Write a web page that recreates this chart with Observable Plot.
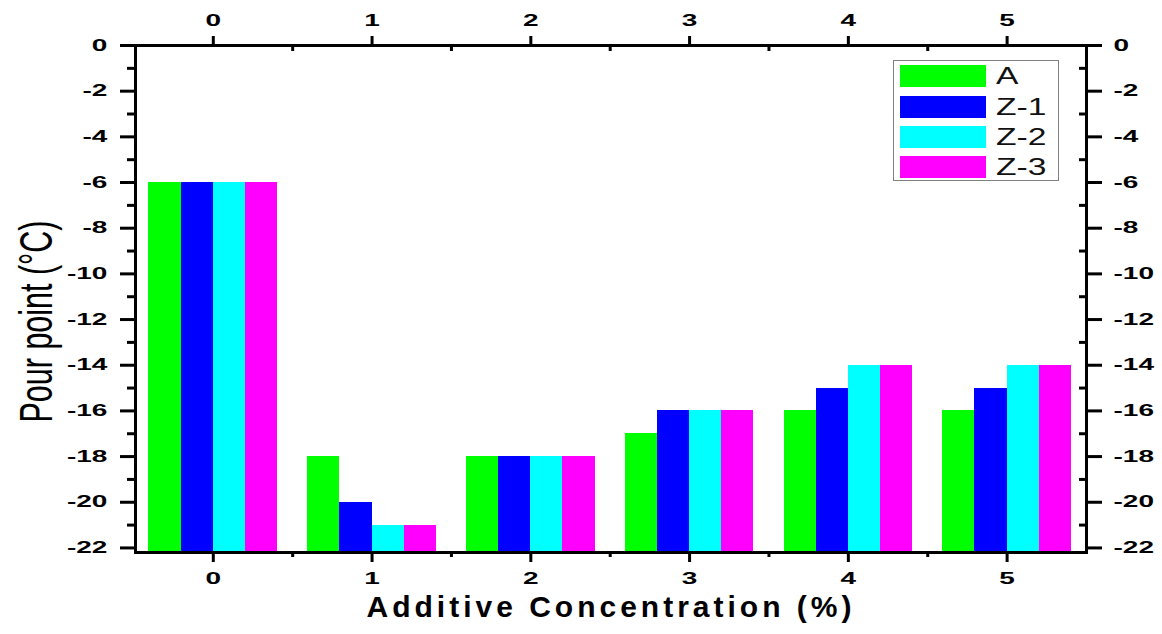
<!DOCTYPE html>
<html>
<head>
<meta charset="utf-8">
<script src="https://cdn.jsdelivr.net/npm/d3@7"></script>
<script src="https://cdn.jsdelivr.net/npm/@observablehq/plot@0.6"></script>
<style>
  html, body { margin: 0; padding: 0; background: #fff; }
  #wrap { position: relative; width: 1162px; height: 634px; font-family: "Liberation Sans", Arial, sans-serif; }
  #legend { position: absolute; left: 893px; top: 60px; width: 166px; height: 121px; border: 1px solid #808080; background: #fff; box-sizing: border-box; }
  .sw { position: absolute; left: 6px; width: 86px; height: 22px; }
  .lt { position: absolute; left: 102px; font-size: 24px; line-height: 1; color: #111; transform: scaleX(1.4); transform-origin: left center; white-space: nowrap; }
</style>
</head>
<body>
<div id="wrap"></div>
<script>
// ---- data ----
const concentrations = [0, 1, 2, 3, 4, 5];
const seriesNames = ["A", "Z-1", "Z-2", "Z-3"];
const seriesColors = ["#00ff00", "#0000ff", "#00ffff", "#ff00ff"];
const valuesA  = [-6, -18, -18, -17, -16, -16];
const valuesZ1 = [-6, -20, -18, -16, -15, -15];
const valuesZ2 = [-6, -21, -18, -16, -14, -14];
const valuesZ3 = [-6, -21, -18, -16, -14, -14];
const yMajorTicks = [0, -2, -4, -6, -8, -10, -12, -14, -16, -18, -20, -22];
const yMinorTicks = [-1, -3, -5, -7, -9, -11, -13, -15, -17, -19, -21];
const xMajorTicks = [0, 1, 2, 3, 4, 5];
const xMinorTicks = [0.5, 1.5, 2.5, 3.5, 4.5];
const xTitle = "Additive Concentration (%)";
const yTitle = "Pour point (°C)";
const yDomain = [-22.2, 0];
const xDomain = [-0.49, 5.5];

const seriesValues = [valuesA, valuesZ1, valuesZ2, valuesZ3];
const groupHalf = 0.405;
const barW = (2 * groupHalf) / seriesNames.length;
const rows = [];
concentrations.forEach((c, gi) => {
  seriesNames.forEach((s, k) => {
    rows.push({c, k, series: s, v: seriesValues[k][gi]});
  });
});

const fmt = d => String(d);
const axisFont = {fontSize: 16, fontWeight: "bold"};

const chart = Plot.plot({
  width: 1162,
  height: 634,
  marginLeft: 135,
  marginRight: 76,
  marginTop: 45,
  marginBottom: 82,
  style: {fontFamily: "'Liberation Sans', Arial, sans-serif", background: "white", color: "black"},
  x: {domain: xDomain},
  y: {domain: yDomain},
  color: {domain: seriesNames, range: seriesColors},
  marks: [
    Plot.rectY(rows, {
      x1: d => d.c - groupHalf + d.k * barW,
      x2: d => d.c - groupHalf + (d.k + 1) * barW,
      y1: yDomain[0],
      y2: d => d.v,
      fill: "series",
      shapeRendering: "crispEdges"
    }),
    // left
    Plot.axisY(yMajorTicks, {anchor: "left", tickSize: 15, tickPadding: 13, tickFormat: fmt, strokeWidth: 3, label: null, ...axisFont}),
    Plot.axisY(yMinorTicks, {anchor: "left", tickSize: 8, tickFormat: () => "", strokeWidth: 3, label: null}),
    // right
    Plot.axisY(yMajorTicks, {anchor: "right", tickSize: 15, tickPadding: 12, tickFormat: fmt, strokeWidth: 3, label: null, ...axisFont}),
    Plot.axisY(yMinorTicks, {anchor: "right", tickSize: -8, tickFormat: () => "", strokeWidth: 3, label: null}),
    // bottom
    Plot.axisX(xMajorTicks, {anchor: "bottom", tickSize: 10, tickPadding: 10, tickFormat: fmt, strokeWidth: 3, label: null, ...axisFont}),
    Plot.axisX(xMinorTicks, {anchor: "bottom", tickSize: 5, tickFormat: () => "", strokeWidth: 3, label: null}),
    // top
    Plot.axisX(xMajorTicks, {anchor: "top", tickSize: 10, tickPadding: 10, tickFormat: fmt, strokeWidth: 3, label: null, ...axisFont}),
    Plot.axisX(xMinorTicks, {anchor: "top", tickSize: -5, tickFormat: () => "", strokeWidth: 3, label: null}),
    Plot.frame({stroke: "black", strokeWidth: 3}),
    Plot.text([yTitle], {frameAnchor: "left", textAnchor: "middle", lineAnchor: "middle", rotate: -90, dx: -99, dy: 22.5, fontSize: 30.5, fill: "black"}),
    Plot.text([xTitle], {frameAnchor: "bottom", textAnchor: "middle", lineAnchor: "middle", dy: 55, fontSize: 30, fontWeight: "bold", fill: "black"})
  ]
});

const wrap = document.getElementById("wrap");
wrap.appendChild(chart);

function stretchX(t, s) {
  const bb = t.getBBox();
  const anchor = getComputedStyle(t).textAnchor;
  const px = anchor === "end" ? bb.x + bb.width : anchor === "start" ? bb.x : bb.x + bb.width / 2;
  const tr = t.getAttribute("transform") || "";
  t.setAttribute("transform", `${tr} translate(${px},0) scale(${s},1) translate(${-px},0)`);
}
function stretchLocalY(t, s) {
  const bb = t.getBBox();
  const py = bb.y + bb.height / 2;
  const tr = t.getAttribute("transform") || "";
  t.setAttribute("transform", `${tr} translate(0,${py}) scale(1,${s}) translate(0,${-py})`);
}

d3.select(chart).selectAll('g[aria-label$="tick label"] text').each(function() { stretchX(this, 1.75); });
d3.select(chart).selectAll('g[aria-label="text"] text').each(function() {
  const txt = this.textContent;
  if (txt === yTitle) stretchLocalY(this, 1.52);
  if (txt === xTitle) { this.style.letterSpacing = "4px"; }
});

// legend overlay
const legend = document.createElement("div");
legend.id = "legend";
const rowTops = [4, 35, 65, 95];
seriesNames.forEach((name, i) => {
  const sw = document.createElement("div");
  sw.className = "sw";
  sw.style.top = rowTops[i] + "px";
  sw.style.background = seriesColors[i];
  legend.appendChild(sw);
  const lt = document.createElement("div");
  lt.className = "lt";
  lt.style.top = (rowTops[i] - 1) + "px";
  lt.textContent = name;
  legend.appendChild(lt);
});
wrap.appendChild(legend);
</script>
</body>
</html>
